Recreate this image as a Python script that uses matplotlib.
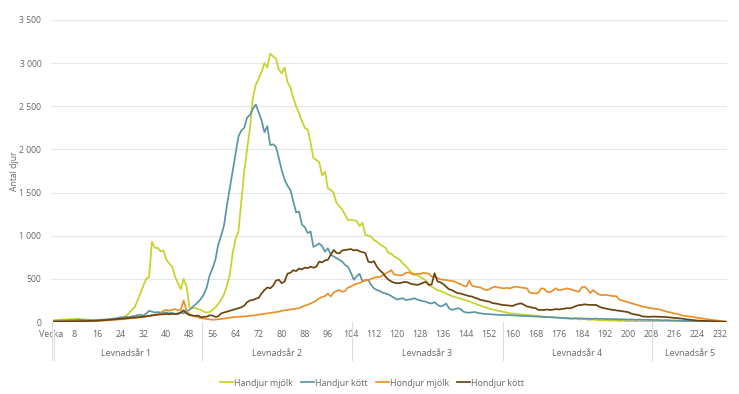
import matplotlib
matplotlib.use("Agg")
import matplotlib.pyplot as plt
import matplotlib.transforms as mtransforms
from matplotlib.ticker import FuncFormatter
import numpy as np

plt.rcParams['font.family'] = ['Open Sans', 'DejaVu Sans']

series_names = ["Handjur mjölk", "Handjur kött", "Hondjur mjölk", "Hondjur kött"]
series_colors = ["#c8d22a", "#5b96a4", "#e8912a", "#6b4410"]

handjur_mjolk = [
    20, 25, 25, 30, 28, 30, 35, 30, 40, 35,
    30, 28, 25, 25, 22, 20, 22, 25, 20, 25,
    30, 35, 40, 45, 55, 70, 100, 140, 170, 250,
    330, 420, 500, 520, 930, 860, 860, 820, 830, 720,
    680, 640, 530, 450, 380, 500, 410, 170, 165, 160,
    150, 140, 120, 110, 115, 140, 170, 210, 260, 320,
    420, 550, 800, 960, 1050, 1400, 1750, 2000, 2250, 2600,
    2750, 2820, 2900, 3000, 2950, 3110, 3080, 3050, 2930, 2880,
    2950, 2780, 2720, 2600, 2500, 2420, 2330, 2250, 2230, 2080,
    1900, 1880, 1850, 1700, 1740, 1550, 1530, 1500, 1380, 1340,
    1300, 1240, 1180, 1185, 1180, 1170, 1110, 1150, 1010, 1000,
    990, 950, 930, 900, 880, 860, 800, 790, 760, 740,
    720, 680, 650, 610, 570, 560, 540, 520, 505, 480,
    430, 410, 390, 370, 360, 345, 330, 315, 300, 290,
    280, 270, 260, 250, 240, 225, 215, 200, 190, 175,
    165, 155, 145, 140, 130, 125, 115, 110, 100, 100,
    95, 90, 88, 85, 82, 80, 75, 72, 70, 65,
    60, 58, 55, 52, 50, 48, 45, 42, 40, 38,
    35, 38, 32, 30, 35, 28, 25, 30, 22, 20,
    20, 18, 20, 15, 18, 15, 12, 15, 12, 10,
    10, 8, 10, 8, 6, 8, 5, 6, 5, 4,
    4, 3, 4, 3, 3, 2, 2, 2, 2, 1,
    1, 1, 1, 1, 1, 1, 0, 0, 0, 0,
    0, 0, 0, 0,
]

handjur_kott = [
    10, 12, 15, 15, 18, 20, 20, 22, 25, 25,
    22, 20, 20, 18, 20, 22, 25, 28, 30, 32,
    35, 40, 45, 55, 50, 60, 55, 65, 70, 80,
    85, 75, 95, 130, 120, 110, 115, 110, 105, 110,
    100, 105, 95, 100, 110, 100, 130, 140, 170, 200,
    230, 270, 320, 400, 540, 620, 720, 900, 1000, 1120,
    1350, 1550, 1750, 1950, 2150, 2220, 2250, 2370, 2400, 2470,
    2520, 2430, 2340, 2200, 2270, 2050, 2060, 2030, 1900, 1760,
    1650, 1580, 1530, 1400, 1270, 1280, 1130, 1100, 1030, 1050,
    870, 890, 910, 880, 815, 855, 780, 760, 740, 720,
    700, 660, 640, 570, 490, 530, 560, 470, 480, 490,
    430, 390, 370, 360, 340, 330, 320, 300, 280, 260,
    270, 275, 255, 260, 265, 275, 260, 250, 240, 235,
    220, 215, 230, 200, 180, 190, 215, 160, 140, 150,
    160, 150, 120, 110, 108, 112, 116, 105, 100, 95,
    93, 90, 88, 85, 83, 82, 80, 81, 80, 78,
    75, 72, 70, 70, 68, 66, 65, 64, 62, 60,
    60, 58, 55, 54, 52, 50, 48, 46, 45, 43,
    42, 45, 40, 42, 38, 40, 36, 38, 40, 35,
    38, 35, 34, 36, 32, 34, 30, 32, 30, 28,
    30, 28, 26, 28, 25, 26, 24, 25, 22, 24,
    22, 20, 22, 20, 18, 18, 16, 15, 14, 13,
    12, 11, 10, 9, 8, 7, 6, 6, 5, 4,
    4, 3, 2, 2,
]

hondjur_mjolk = [
    5, 5, 6, 6, 7, 7, 8, 8, 8, 9,
    9, 10, 10, 10, 12, 12, 14, 15, 18, 20,
    22, 25, 28, 30, 32, 35, 40, 42, 45, 50,
    55, 60, 65, 70, 80, 85, 90, 100, 130, 140,
    130, 140, 150, 135, 140, 250, 130, 90, 75, 65,
    55, 45, 40, 35, 30, 25, 28, 30, 35, 40,
    45, 50, 55, 58, 60, 62, 65, 68, 72, 75,
    80, 85, 90, 95, 100, 105, 110, 115, 120, 130,
    135, 140, 145, 150, 155, 160, 175, 190, 200, 215,
    230, 250, 275, 290, 300, 330, 295, 340, 360, 370,
    350, 360, 400, 410, 430, 445, 450, 470, 490, 480,
    500, 510, 525, 520, 540, 560, 580, 600, 550, 545,
    540, 545, 570, 575, 560, 545, 560, 555, 570, 565,
    560, 525, 530, 510, 495, 490, 487, 480, 475, 470,
    450, 440, 420, 410, 480, 420, 410, 405, 400, 380,
    370, 380, 400, 410, 400, 395, 390, 395, 390, 400,
    410, 405, 400, 395, 390, 340, 335, 330, 340, 390,
    385, 350, 345, 365, 390, 370, 375, 380, 390, 380,
    370, 360, 350, 400, 410, 380, 335, 370, 340, 320,
    310, 315, 310, 305, 300, 300, 260, 250, 240, 230,
    220, 210, 200, 190, 180, 175, 165, 160, 155, 150,
    145, 135, 125, 115, 110, 100, 95, 85, 75, 70,
    65, 60, 55, 50, 45, 40, 35, 30, 25, 20,
    18, 12, 8, 5,
]

hondjur_kott = [
    5, 5, 6, 6, 7, 7, 8, 8, 9, 9,
    10, 10, 12, 12, 14, 15, 18, 20, 22, 25,
    28, 32, 35, 38, 40, 42, 45, 50, 52, 55,
    58, 62, 65, 70, 75, 80, 85, 88, 90, 92,
    90, 95, 92, 93, 110, 135, 100, 80, 75, 70,
    75, 55, 60, 62, 78, 75, 60, 65, 100, 110,
    120, 130, 140, 150, 160, 170, 190, 230, 250, 255,
    270, 280, 330, 370, 400, 390, 420, 480, 490, 450,
    470, 560, 570, 600, 590, 620, 610, 630, 625, 640,
    630, 640, 700, 690, 715, 720, 780, 835, 800, 795,
    830, 835, 840, 845, 830, 835, 820, 810, 800, 700,
    690, 705, 640, 600, 570, 525, 490, 470, 455, 450,
    450, 460, 465, 455, 440, 435, 430, 440, 455, 465,
    430, 435, 565, 470, 460, 440, 410, 380, 370, 350,
    335, 330, 320, 310, 300, 295, 280, 270, 255, 250,
    240, 236, 220, 215, 210, 200, 197, 195, 190, 185,
    200, 210, 216, 200, 180, 175, 165, 160, 140, 139,
    140, 145, 140, 142, 150, 145, 150, 155, 160, 159,
    170, 185, 195, 198, 205, 200, 198, 197, 198, 180,
    165, 158, 150, 145, 140, 135, 130, 125, 120, 115,
    100, 90, 85, 78, 65, 62, 60, 62, 63, 62,
    62, 60, 58, 55, 52, 48, 45, 42, 38, 32,
    28, 24, 20, 17, 15, 13, 12, 11, 10, 9,
    8, 6, 4, 3,
]

x_tick_weeks = [0] + list(range(8, 233, 8))
x_tick_labels = ["Vecka"] + [str(w) for w in range(8, 233, 8)]
year_labels = ["Levnadsår 1", "Levnadsår 2", "Levnadsår 3", "Levnadsår 4", "Levnadsår 5"]
year_bounds = [0, 52.4, 104.4, 156.6, 208.4, 234.5]

W, H = 739, 394
fig = plt.figure(figsize=(W / 100, H / 100), dpi=100)
ax = fig.add_axes([51 / W, (H - 322) / H, (727 - 51) / W, (322 - 20) / H])

all_series = [handjur_mjolk, handjur_kott, hondjur_mjolk, hondjur_kott]
for name, col, vals in zip(series_names, series_colors, all_series):
    weeks = np.arange(1, len(vals) + 1)
    ax.plot(weeks, vals, color=col, lw=1.25, label=name, solid_joinstyle='round')

ax.set_xlim(0, 234.4)
ax.set_ylim(0, 3500)
ax.set_yticks(range(0, 3501, 500))
ax.yaxis.set_major_formatter(FuncFormatter(lambda v, p: f"{int(v):,}".replace(",", " ")))
ax.grid(axis='y', color='#e6e6e6', lw=0.8)
ax.set_axisbelow(True)
for s in ax.spines.values():
    s.set_visible(False)
ax.tick_params(axis='y', length=0, pad=7, labelsize=6.2, labelcolor='#666666')
ax.set_xticks(x_tick_weeks)
ax.set_xticklabels(x_tick_labels)
ax.tick_params(axis='x', length=0, pad=6, labelsize=6.4, labelcolor='#666666')
ax.set_ylabel("Antal djur", fontsize=6.2, color='#666666', labelpad=0)

trans = mtransforms.blended_transform_factory(ax.transData, ax.transAxes)
for b in year_bounds[:-1]:
    xb = b if b > 0 else 0.3
    ax.plot([xb, xb], [0, -0.125], transform=trans, color='#dddddd', lw=0.8, clip_on=False)
ax.plot([0.9, 0.9], [-0.03, -0.125], transform=trans, color='#dddddd', lw=0.8, clip_on=False)
for i, lab in enumerate(year_labels):
    xc = (year_bounds[i] + year_bounds[i + 1]) / 2
    ax.text(xc, -0.103, lab, transform=trans, ha='center', va='center', fontsize=6.4, color='#666666')

fig.legend(loc='center', bbox_to_anchor=(372 / W, 1 - 383 / H), ncol=4, frameon=False,
           fontsize=6.4, handlelength=1.5, handletextpad=0.1, columnspacing=0.9,
           labelcolor='#666666')

fig.savefig("out.png", dpi=100)
